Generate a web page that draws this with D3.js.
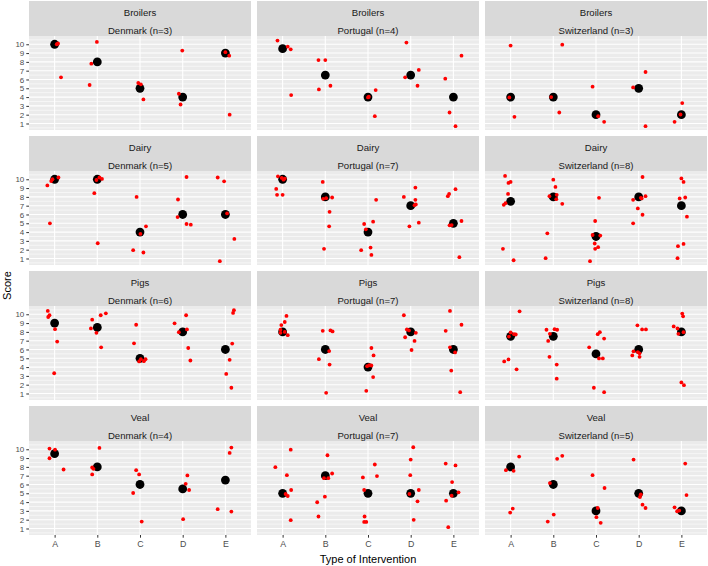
<!DOCTYPE html>
<html><head><meta charset="utf-8">
<script src="https://cdn.jsdelivr.net/npm/d3@7"></script>
<style>body{margin:0;background:#fff}svg{display:block}</style>
</head><body>
<script>
const animals = ["Broilers","Dairy","Pigs","Veal"];
const countries = ["Denmark","Portugal","Switzerland"];
const nCounts = [[3,4,3],[5,7,8],[6,7,8],[4,7,5]];
const interventions = ["A","B","C","D","E"];
const yTicks = [1,2,3,4,5,6,7,8,9,10];

// medians per animal: [Denmark, Portugal, Switzerland] x [A..E]
const medianBroilers = [[10,8,5,4,9],[9.5,6.5,4,6.5,4],[4,4,2,5,2]];
const medianDairy    = [[10,10,4,6,6],[10,8,4,7,5],[7.5,8,3.5,8,7]];
const medianPigs     = [[9,8.5,5,8,6],[8,6,4,8,6],[7.5,7.5,5.5,6,8]];
const medianVeal     = [[9.5,8,6,5.5,6.5],[5,7,5,5,5],[8,6,3,5,3]];

// individual jittered responses: [intervention position (1=A..5=E, jittered), score (jittered)]
const broilersDenmark = [[1.05,10.0],[1.08,10.1],[1.15,6.24],[1.99,10.27],[1.86,7.8],[1.82,5.37],
  [2.96,5.6],[3.02,5.45],[3.08,3.73],[3.99,9.28],[3.91,4.38],[3.95,3.16],[5.0,9.1],[5.09,8.7],[5.1,2.0]];
const broilersPortugal = [[0.88,10.42],[1.12,9.73],[1.19,9.43],[1.2,4.23],[1.84,8.21],[2.0,8.21],[1.85,4.87],[2.12,5.29],
  [3.0,3.96],[3.02,4.04],[3.18,4.8],[3.16,1.83],[3.9,10.19],[4.19,7.08],[3.87,6.24],[4.16,5.29],
  [5.19,8.71],[4.81,6.09],[4.91,2.25],[5.05,0.7]];
const broilersSwitzerland = [[1.0,9.85],[0.97,3.96],[1.09,1.76],[2.21,9.96],[1.95,4.0],[2.14,2.25],
  [2.92,5.18],[3.05,1.83],[3.19,1.19],[4.16,6.85],[3.87,5.1],[4.16,0.7],[5.02,3.32],[4.98,2.02],[4.84,1.19]];

const dairyDenmark = [[1.09,10.2],[0.95,10.0],[0.92,9.8],[0.83,9.3],[0.89,5.0],
  [2.11,10.04],[2.05,10.2],[1.93,8.42],[2.01,2.73],[1.98,9.92],
  [2.92,8.0],[3.14,4.65],[3.01,3.79],[2.84,1.94],[3.08,1.68],
  [4.09,10.26],[3.89,7.7],[3.88,5.71],[4.09,4.92],[4.19,4.84],
  [4.82,10.2],[4.97,9.77],[5.04,6.12],[5.21,3.22],[4.87,0.7]];
const dairyPortugal = [[0.89,10.34],[1.05,10.08],[0.85,8.9],[0.87,8.23],[1.0,8.23],[1.02,9.96],[0.98,10.15],
  [1.94,9.7],[1.95,7.78],[2.02,7.85],[2.16,7.93],[2.1,6.3],[2.09,4.65],[1.97,2.1],
  [3.19,7.67],[3.12,5.18],[2.91,4.92],[2.95,4.31],[3.06,2.24],[2.84,1.94],[3.08,1.41],
  [4.11,9.06],[3.84,8.0],[4.11,7.67],[4.12,7.14],[4.09,7.06],[4.19,5.07],[3.97,4.65],
  [5.05,8.87],[4.9,8.34],[4.87,8.08],[5.19,5.26],[4.91,4.77],[4.96,4.8],[5.14,1.15]];
const dairySwitzerland = [[0.87,10.38],[0.95,9.59],[1.0,9.7],[0.94,8.34],[0.88,7.29],[0.84,7.1],[0.82,2.1],[1.07,0.8],
  [2.0,9.96],[2.05,9.13],[1.91,8.08],[2.08,8.23],[2.07,7.74],[2.21,7.21],[1.86,3.86],[1.82,1.04],
  [3.07,7.89],[2.98,5.26],[3.1,3.6],[2.92,3.67],[2.97,2.7],[3.05,2.28],[2.98,2.1],[2.86,0.7],
  [4.09,10.26],[3.87,7.67],[4.05,7.89],[4.16,8.08],[4.07,7.82],[3.98,6.69],[4.09,5.97],[3.87,5.0],
  [5.0,10.1],[5.05,9.7],[4.96,7.82],[5.09,7.93],[5.13,5.75],[4.92,2.4],[5.05,2.66],[4.91,1.04]];

const pigsDenmark = [[0.84,10.38],[0.88,9.89],[0.85,9.69],[1.01,8.31],[1.06,6.9],[0.99,3.3],
  [1.88,9.39],[2.08,9.89],[2.2,10.11],[1.85,8.39],[1.98,7.89],[2.09,6.25],
  [2.91,8.81],[2.86,6.7],[2.98,4.64],[3.02,4.9],[3.13,4.9],[3.09,4.67],
  [3.81,8.97],[4.08,9.89],[4.1,8.28],[3.91,7.97],[4.13,6.17],[4.18,4.75],
  [5.2,10.46],[5.18,10.15],[5.16,6.67],[5.1,4.83],[5.02,3.22],[5.14,1.65]];
const pigsPortugal = [[1.09,9.81],[1.05,9.12],[0.97,8.77],[0.95,8.24],[0.95,7.89],[1.05,8.0],[1.12,7.62],
  [1.94,8.12],[2.12,8.16],[2.17,8.05],[2.09,5.82],[1.85,4.9],[2.1,4.29],[2.02,1.07],
  [3.08,6.17],[3.13,5.33],[3.03,4.21],[3.08,4.18],[3.12,2.87],[2.96,1.3],[2.98,4.1],
  [3.84,9.89],[3.91,8.28],[4.12,7.89],[3.87,7.39],[4.09,6.97],[4.02,5.94],[3.96,8.16],
  [4.92,10.38],[5.19,8.81],[4.82,8.12],[4.92,6.25],[5.04,5.67],[4.95,3.6],[5.16,1.15]];
const pigsSwitzerland = [[1.21,10.34],[1.0,7.93],[1.08,7.74],[1.12,7.7],[0.96,7.47],[0.95,4.87],[0.85,4.64],[1.14,3.75],
  [1.84,8.24],[2.03,8.31],[2.09,8.24],[1.92,7.78],[1.88,6.97],[1.91,5.17],[2.08,4.29],[2.08,2.68],
  [3.09,7.97],[3.04,7.74],[3.19,7.24],[2.84,6.25],[3.07,4.98],[3.16,4.98],[2.95,1.65],[3.19,1.15],
  [3.97,8.74],[4.08,8.28],[4.17,8.28],[3.88,5.79],[4.02,5.56],[3.85,5.33],[4.02,5.17],[3.98,5.7],
  [5.02,10.08],[5.04,9.77],[4.82,8.62],[4.91,8.39],[4.93,7.78],[5.05,7.97],[5.0,2.26],[5.06,1.95]];

const vealDenmark = [[0.88,10.08],[1.01,9.96],[0.88,8.98],[1.21,7.7],
  [2.05,10.15],[1.88,7.93],[1.91,7.78],[1.88,7.14],
  [2.91,7.63],[2.98,7.14],[2.84,5.03],[3.04,1.79],
  [4.11,7.03],[4.07,6.08],[4.15,5.37],[4.01,2.06],
  [5.14,10.19],[5.1,9.59],[4.82,3.19],[5.14,2.92]];
const vealPortugal = [[1.19,9.96],[0.83,7.97],[1.1,7.06],[1.2,5.37],[1.07,4.92],[1.12,4.69],[1.19,1.94],
  [2.05,9.32],[2.16,7.25],[1.97,6.72],[2.07,6.72],[1.99,4.62],[1.81,3.98],[1.84,2.36],
  [3.16,8.27],[3.21,6.95],[2.88,6.8],[2.91,5.37],[2.92,2.36],[2.91,1.75],[2.96,1.75],
  [4.06,10.23],[4.0,8.83],[3.99,7.06],[4.19,5.37],[4.16,4.09],[4.07,1.98],[3.97,4.92],
  [4.82,8.38],[5.05,8.16],[4.97,6.27],[5.12,5.11],[4.96,4.73],[4.83,4.16],[4.88,1.15]];
const vealSwitzerland = [[1.2,9.17],[0.89,7.63],[1.07,7.55],[1.05,3.26],[0.99,2.81],
  [2.09,8.91],[2.21,9.25],[1.92,6.16],[2.01,2.58],[1.87,1.79],
  [2.92,7.06],[3.2,5.6],[3.04,3.33],[3.01,2.28],[3.11,1.64],
  [3.88,8.83],[4.05,4.88],[4.03,4.58],[4.09,3.71],[4.16,3.33],
  [5.09,8.38],[5.12,4.8],[4.84,3.41],[4.9,2.96],[4.95,3.03]];

const medians = [medianBroilers, medianDairy, medianPigs, medianVeal];
const responses = [
  [broilersDenmark, broilersPortugal, broilersSwitzerland],
  [dairyDenmark, dairyPortugal, dairySwitzerland],
  [pigsDenmark, pigsPortugal, pigsSwitzerland],
  [vealDenmark, vealPortugal, vealSwitzerland]
];

const W = 708, H = 566;
const colX = [29, 257, 485], panelW = 222;
const rowTop = [1, 136, 271, 406], stripH = 35, panelH = 94;
const font = "'Liberation Sans', Arial, sans-serif";

const svg = d3.select("body").append("svg").attr("width", W).attr("height", H)
  .style("font-family", font);

const x = d3.scaleLinear().domain([0.4, 5.6]).range([0, panelW]);
const xBand = d3.scalePoint().domain(interventions).range([x(1), x(5)]);
const y = d3.scaleLinear().domain([0.26, 10.94]).range([panelH, 0]);
const minorTicks = d3.range(0.5, 11, 1);

animals.forEach((animal, r) => {
  countries.forEach((country, c) => {
    const g = svg.append("g").attr("transform", `translate(${colX[c]},${rowTop[r]})`);
    // strip
    g.append("rect").attr("width", panelW).attr("height", stripH).attr("fill", "#D9D9D9");
    g.append("text").attr("x", panelW/2).attr("y", 14.5).attr("text-anchor","middle")
      .attr("font-size", 9.6).attr("fill", "#1A1A1A").text(animal);
    g.append("text").attr("x", panelW/2).attr("y", 32.5).attr("text-anchor","middle")
      .attr("font-size", 9.6).attr("fill", "#1A1A1A").text(`${country} (n=${nCounts[r][c]})`);
    const p = g.append("g").attr("transform", `translate(0,${stripH})`);
    p.append("rect").attr("width", panelW).attr("height", panelH).attr("fill", "#EBEBEB");
    p.selectAll(".minor").data(minorTicks).join("line")
      .attr("x1", 0).attr("x2", panelW).attr("y1", d => y(d)).attr("y2", d => y(d))
      .attr("stroke", "#fff").attr("stroke-width", 0.55);
    p.selectAll(".major").data(yTicks).join("line")
      .attr("x1", 0).attr("x2", panelW).attr("y1", d => y(d)).attr("y2", d => y(d))
      .attr("stroke", "#fff").attr("stroke-width", 1.1);
    p.selectAll(".vmajor").data(interventions).join("line")
      .attr("x1", d => xBand(d)).attr("x2", d => xBand(d)).attr("y1", 0).attr("y2", panelH)
      .attr("stroke", "#fff").attr("stroke-width", 1.1);
    // medians (black)
    p.selectAll(".med").data(medians[r][c]).join("circle")
      .attr("cx", (d, i) => xBand(interventions[i])).attr("cy", d => y(d))
      .attr("r", 4.4).attr("fill", "#000");
    // responses (red)
    p.selectAll(".resp").data(responses[r][c]).join("circle")
      .attr("cx", d => x(d[0])).attr("cy", d => y(d[1]))
      .attr("r", 1.9).attr("fill", "#FF0000");

    if (c === 0) {
      const ax = p.append("g").call(d3.axisLeft(y).tickValues(yTicks).tickSize(2.7).tickPadding(2));
      ax.select(".domain").remove();
      ax.selectAll("line").attr("stroke", "#333333");
      ax.selectAll("text").attr("fill", "#4D4D4D").attr("font-size", 8).style("font-family", font);
    }
    if (r === 3) {
      const ax = p.append("g").attr("transform", `translate(0,${panelH})`)
        .call(d3.axisBottom(xBand).tickSize(2.7).tickPadding(3));
      ax.select(".domain").remove();
      ax.selectAll("line").attr("stroke", "#333333");
      ax.selectAll("text").attr("fill", "#4D4D4D").attr("font-size", 8.8).style("font-family", font);
    }
  });
});

svg.append("text").attr("x", (colX[0] + colX[2] + panelW) / 2).attr("y", 563)
  .attr("text-anchor", "middle").attr("font-size", 11).attr("fill", "#000").text("Type of Intervention");
svg.append("text").attr("transform", `translate(11,${(rowTop[0] + stripH + rowTop[3] + stripH + panelH) / 2}) rotate(-90)`)
  .attr("text-anchor", "middle").attr("font-size", 11).attr("fill", "#000").text("Score");
</script>
</body></html>
